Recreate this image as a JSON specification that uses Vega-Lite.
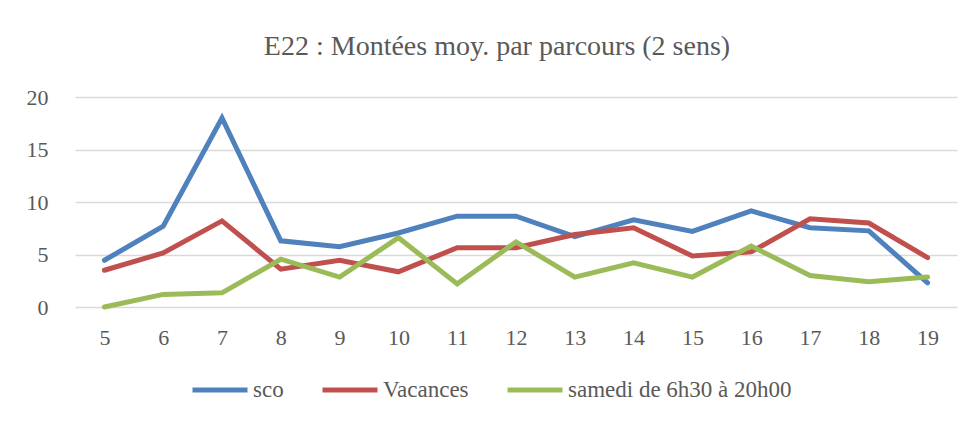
{
  "$schema": "https://vega.github.io/schema/vega-lite/v6.json",
  "width": 882,
  "height": 210,
  "autosize": {"type": "none"},
  "padding": {"left": 75, "top": 97, "right": 18, "bottom": 116},
  "background": "white",
  "title": {
    "text": "E22 : Montées moy. par parcours (2 sens)",
    "font": "Liberation Serif",
    "fontSize": 28,
    "fontWeight": "normal",
    "color": "#595959",
    "anchor": "middle",
    "dx": -19,
    "offset": 25
  },
  "data": {
    "values": [
      {"h": 5, "s": "sco", "v": 4.45}, {"h": 6, "s": "sco", "v": 7.7}, {"h": 7, "s": "sco", "v": 18.0},
      {"h": 8, "s": "sco", "v": 6.3}, {"h": 9, "s": "sco", "v": 5.75}, {"h": 10, "s": "sco", "v": 7.05},
      {"h": 11, "s": "sco", "v": 8.65}, {"h": 12, "s": "sco", "v": 8.65}, {"h": 13, "s": "sco", "v": 6.7},
      {"h": 14, "s": "sco", "v": 8.3}, {"h": 15, "s": "sco", "v": 7.2}, {"h": 16, "s": "sco", "v": 9.15},
      {"h": 17, "s": "sco", "v": 7.55}, {"h": 18, "s": "sco", "v": 7.25}, {"h": 19, "s": "sco", "v": 2.3},
      {"h": 5, "s": "Vacances", "v": 3.5}, {"h": 6, "s": "Vacances", "v": 5.15}, {"h": 7, "s": "Vacances", "v": 8.2},
      {"h": 8, "s": "Vacances", "v": 3.6}, {"h": 9, "s": "Vacances", "v": 4.45}, {"h": 10, "s": "Vacances", "v": 3.35},
      {"h": 11, "s": "Vacances", "v": 5.65}, {"h": 12, "s": "Vacances", "v": 5.65}, {"h": 13, "s": "Vacances", "v": 6.9},
      {"h": 14, "s": "Vacances", "v": 7.55}, {"h": 15, "s": "Vacances", "v": 4.85}, {"h": 16, "s": "Vacances", "v": 5.25},
      {"h": 17, "s": "Vacances", "v": 8.4}, {"h": 18, "s": "Vacances", "v": 8.0}, {"h": 19, "s": "Vacances", "v": 4.7},
      {"h": 5, "s": "samedi de 6h30 à 20h00", "v": 0.0}, {"h": 6, "s": "samedi de 6h30 à 20h00", "v": 1.2},
      {"h": 7, "s": "samedi de 6h30 à 20h00", "v": 1.35}, {"h": 8, "s": "samedi de 6h30 à 20h00", "v": 4.55},
      {"h": 9, "s": "samedi de 6h30 à 20h00", "v": 2.85}, {"h": 10, "s": "samedi de 6h30 à 20h00", "v": 6.6},
      {"h": 11, "s": "samedi de 6h30 à 20h00", "v": 2.2}, {"h": 12, "s": "samedi de 6h30 à 20h00", "v": 6.2},
      {"h": 13, "s": "samedi de 6h30 à 20h00", "v": 2.85}, {"h": 14, "s": "samedi de 6h30 à 20h00", "v": 4.2},
      {"h": 15, "s": "samedi de 6h30 à 20h00", "v": 2.85}, {"h": 16, "s": "samedi de 6h30 à 20h00", "v": 5.8},
      {"h": 17, "s": "samedi de 6h30 à 20h00", "v": 3.0}, {"h": 18, "s": "samedi de 6h30 à 20h00", "v": 2.4},
      {"h": 19, "s": "samedi de 6h30 à 20h00", "v": 2.85}
    ]
  },
  "mark": {"type": "line", "strokeWidth": 5, "strokeJoin": "miter", "strokeCap": "round"},
  "encoding": {
    "x": {
      "field": "h",
      "type": "ordinal",
      "scale": {"padding": 0.5},
      "axis": {
        "title": null,
        "labelAngle": 0,
        "labelFont": "Liberation Serif",
        "labelFontSize": 22,
        "labelColor": "#595959",
        "labelPadding": 20,
        "ticks": false,
        "domain": false,
        "grid": false
      }
    },
    "y": {
      "field": "v",
      "type": "quantitative",
      "scale": {"domain": [0, 20]},
      "axis": {
        "title": null,
        "values": [0, 5, 10, 15, 20],
        "labelFont": "Liberation Serif",
        "labelFontSize": 22,
        "labelColor": "#595959",
        "labelPadding": 27,
        "ticks": false,
        "domain": false,
        "gridColor": "#d9d9d9",
        "gridWidth": 1.5
      }
    },
    "color": {
      "field": "s",
      "type": "nominal",
      "sort": ["sco", "Vacances", "samedi de 6h30 à 20h00"],
      "scale": {"domain": ["sco", "Vacances", "samedi de 6h30 à 20h00"], "range": ["#4F81BD", "#C0504D", "#9BBB59"]},
      "legend": {
        "title": null,
        "orient": "none",
        "direction": "horizontal",
        "legendX": 115,
        "legendY": 263,
        "symbolType": "stroke",
        "symbolSize": 3025,
        "symbolStrokeWidth": 5,
        "labelFont": "Liberation Serif",
        "labelFontSize": 23,
        "labelColor": "#595959",
        "labelLimit": 0,
        "labelOffset": 3,
        "columnPadding": 28
      }
    }
  },
  "config": {"view": {"stroke": null}}
}
